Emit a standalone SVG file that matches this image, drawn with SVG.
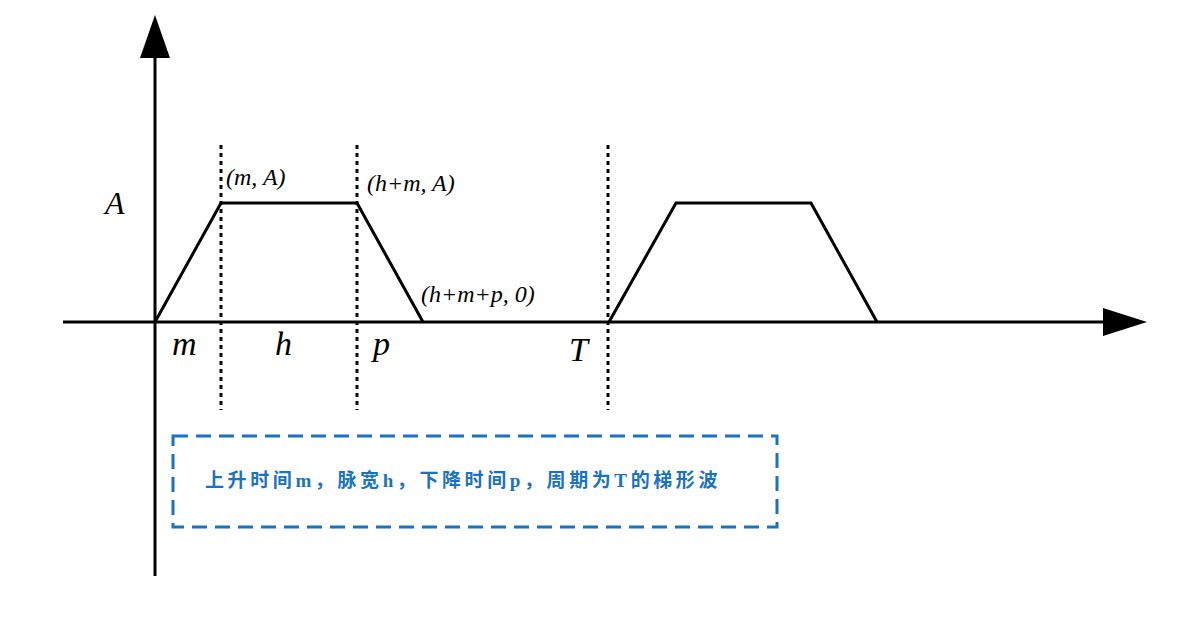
<svg xmlns="http://www.w3.org/2000/svg" width="1181" height="621" viewBox="0 0 1181 621">
<style>
.ax{stroke:#000;stroke-width:3;fill:none}
.w{stroke:#000;stroke-width:3;fill:none;stroke-linejoin:miter}
.d{stroke:#000;stroke-width:3;stroke-dasharray:4,4;fill:none}
.l{font-family:"Liberation Serif",serif;font-style:italic;fill:#000}
</style>
<rect width="1181" height="621" fill="#fff"/>
<g id="connectors">
<line class="ax" x1="155" y1="50" x2="155" y2="576"/>
<polygon points="155,15 140,58 170,58" fill="#000"/>
<line class="ax" x1="63" y1="322" x2="1108" y2="322"/>
<polygon points="1147,322 1103,308 1103,336" fill="#000"/>
<polyline class="w" points="155,322 221,203 357,203 423,322"/>
<polyline class="w" points="609,322 676,203 811,203 877,322"/>
<line class="d" x1="221" y1="145" x2="221" y2="410"/>
<line class="d" x1="357" y1="145" x2="357" y2="410"/>
<line class="d" x1="608" y1="145" x2="608" y2="410"/>
</g>
<g id="labels">
<text class="l" x="105" y="214" font-size="32">A</text>
<text class="l" x="226" y="185" font-size="24">(m, A)</text>
<text class="l" x="367" y="191" font-size="24">(h+m, A)</text>
<text class="l" x="421" y="302" font-size="24">(h+m+p, 0)</text>
<text class="l" x="172" y="355" font-size="34">m</text>
<text class="l" x="275" y="355" font-size="34">h</text>
<text class="l" x="373" y="355" font-size="34">p</text>
<text class="l" x="569" y="361" font-size="34">T</text>
</g>
<g id="note">
<rect x="173" y="436" width="604" height="91" fill="none" stroke="#1a73c0" stroke-width="3" stroke-dasharray="15,8"/>
<text x="205" y="487" font-family="'Liberation Serif','Noto Sans CJK SC',serif" font-weight="bold" font-size="19" letter-spacing="3.6" fill="#1a73c0">上升时间m，脉宽h，下降时间p，周期为T的梯形波</text>
</g>
</svg>
